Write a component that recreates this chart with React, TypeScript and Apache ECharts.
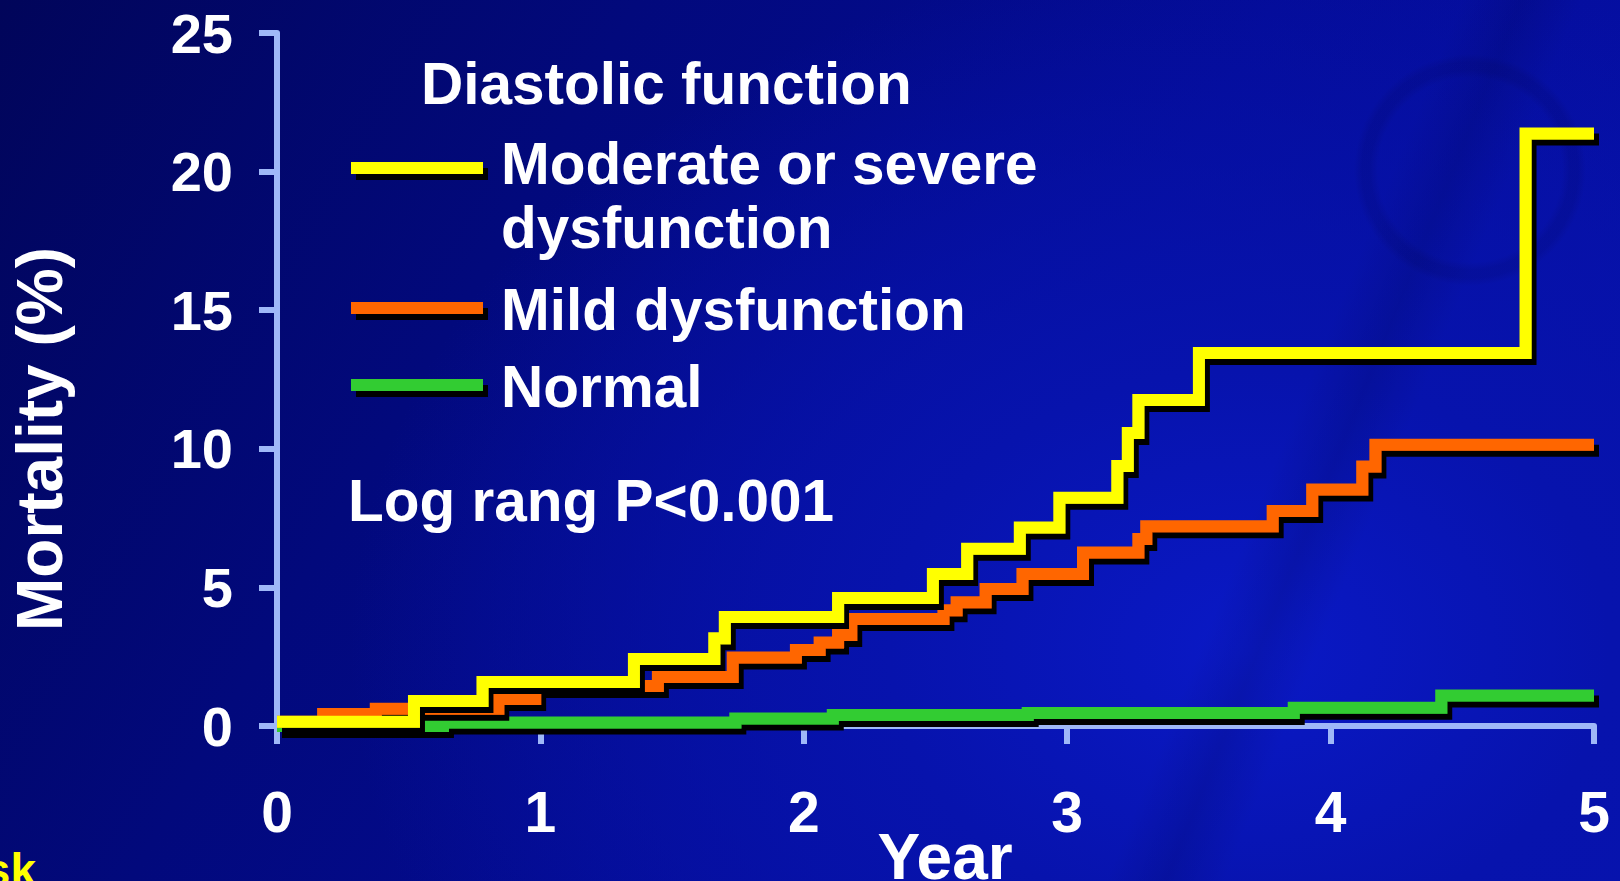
import React, { useEffect, useRef } from "react";
import * as echarts from "echarts";

// Kaplan–Meier style cumulative mortality, [year, mortality %] at each event
const severeSteps: [number, number][] = [
  [0, 0.15], [0.52, 0.9], [0.78, 1.59], [1.355, 2.42], [1.66, 3.17], [1.7, 3.93],
  [2.13, 4.62], [2.49, 5.48], [2.62, 6.39], [2.82, 7.16], [2.97, 8.23], [3.19, 9.38],
  [3.23, 10.57], [3.27, 11.76], [3.5, 13.46], [4.74, 21.37], [5.0, 21.37],
];

const mildSteps: [number, number][] = [
  [0, 0.15], [0.175, 0.43], [0.375, 0.62], [0.84, 0.97], [0.98, 1.44], [1.446, 1.77],
  [1.73, 2.47], [1.97, 2.74], [2.06, 3.01], [2.13, 3.28], [2.18, 3.86], [2.53, 4.18],
  [2.58, 4.46], [2.69, 4.94], [2.83, 5.48], [3.06, 6.26], [3.27, 6.75], [3.3, 7.21],
  [3.78, 7.76], [3.93, 8.53], [4.12, 9.36], [4.17, 10.15], [5.0, 10.15],
];

const normalSteps: [number, number][] = [
  [0, 0], [0.63, 0.13], [1.74, 0.27], [2.11, 0.4], [2.85, 0.47], [3.86, 0.66],
  [4.42, 1.1], [5.0, 1.1],
];

const yearTicks = [0, 1, 2, 3, 4, 5];
const mortalityTicks = [0, 5, 10, 15, 20, 25];

const legendTitle = "Diastolic function";
const seriesNames = ["Moderate or severe\ndysfunction", "Mild dysfunction", "Normal"];
const seriesColors = ["#ffff00", "#ff6600", "#33cc33"];
const pValueText = "Log rang P<0.001";
const xAxisTitle = "Year";
const yAxisTitle = "Mortality (%)";
const riskLabel = "At risk";

const FONT = '"Liberation Sans", Arial, Helvetica, sans-serif';
const AXIS_COLOR = "#9fb8f8";

const textShadow = {
  textShadowColor: "#000",
  textShadowOffsetX: 3,
  textShadowOffsetY: 3,
  textShadowBlur: 0,
};

function whiteText(text: string, x: number, y: number, size: number, extra: any = {}) {
  return {
    type: "text",
    x,
    y,
    z: 100,
    silent: true,
    style: {
      text,
      fill: "#ffffff",
      fontFamily: FONT,
      fontWeight: "bold",
      fontSize: size,
      align: "left",
      verticalAlign: "middle",
      ...textShadow,
      ...extra,
    },
  };
}

function legendBar(color: string, y: number) {
  return {
    type: "rect",
    shape: { x: 351, y, width: 132, height: 12 },
    z: 100,
    silent: true,
    style: {
      fill: color,
      shadowColor: "#000",
      shadowOffsetX: 5,
      shadowOffsetY: 6,
      shadowBlur: 0,
    },
  };
}

function buildOption(): any {
  const stepData = [normalSteps, mildSteps, severeSteps];
  const order = [2, 1, 0]; // draw green first, yellow last (on top)

  return {
    animation: false,
    backgroundColor: "transparent",
    grid: {
      left: 277,
      right: 26,
      top: 33,
      bottom: 155,
      containLabel: false,
      outerBoundsMode: "none",
    },
    xAxis: {
      type: "value",
      min: yearTicks[0],
      max: yearTicks[yearTicks.length - 1],
      interval: yearTicks[1] - yearTicks[0],
      splitLine: { show: false },
      axisLine: { show: true, onZero: false, lineStyle: { color: AXIS_COLOR, width: 6 } },
      axisTick: { show: true, length: 18, lineStyle: { color: AXIS_COLOR, width: 6 } },
      axisLabel: {
        margin: 57,
        color: "#ffffff",
        fontFamily: FONT,
        fontWeight: "bold",
        fontSize: 57,
        ...textShadow,
      },
    },
    yAxis: {
      type: "value",
      min: mortalityTicks[0],
      max: mortalityTicks[mortalityTicks.length - 1],
      interval: mortalityTicks[1] - mortalityTicks[0],
      splitLine: { show: false },
      axisLine: { show: true, onZero: false, lineStyle: { color: AXIS_COLOR, width: 6 } },
      axisTick: { show: true, length: 18, lineStyle: { color: AXIS_COLOR, width: 6 } },
      axisLabel: {
        margin: 44,
        color: "#ffffff",
        fontFamily: FONT,
        fontWeight: "bold",
        fontSize: 56,
        ...textShadow,
      },
    },
    series: stepData.map((data, i) => {
      const idx = order[i];
      return {
        name: seriesNames[idx],
        type: "line",
        step: "end",
        data,
        showSymbol: false,
        symbol: "none",
        silent: true,
        clip: false,
        z: 3 + i,
        lineStyle: {
          color: seriesColors[idx],
          width: 12,
          cap: "butt",
          join: "miter",
          shadowColor: "#000",
          shadowOffsetX: 5,
          shadowOffsetY: 6,
          shadowBlur: 0,
        },
      };
    }),
    graphic: [
      whiteText(legendTitle, 421, 83, 58.5),
      legendBar(seriesColors[0], 162),
      whiteText(seriesNames[0], 501, 131, 58.5, { verticalAlign: "top", lineHeight: 64 }),
      legendBar(seriesColors[1], 302),
      whiteText(seriesNames[1], 501, 309, 58.5),
      legendBar(seriesColors[2], 379),
      whiteText(seriesNames[2], 501, 386, 58.5),
      whiteText(pValueText, 348, 500, 58.5),
      {
        type: "text",
        x: 40,
        y: 439,
        rotation: Math.PI / 2,
        z: 100,
        silent: true,
        style: {
          text: yAxisTitle,
          fill: "#ffffff",
          fontFamily: FONT,
          fontWeight: "bold",
          fontSize: 64,
          align: "center",
          verticalAlign: "middle",
          ...textShadow,
        },
      },
      whiteText(xAxisTitle, 945, 857, 64, { align: "center" }),
      whiteText(riskLabel, 36, 870, 46, { align: "right", fill: "#ffff00" }),
    ],
  };
}

export default function App() {
  const ref = useRef<HTMLDivElement>(null);

  useEffect(() => {
    if (!ref.current) return;
    const chart = echarts.init(ref.current, undefined, {
      renderer: "svg",
      width: 1620,
      height: 881,
    });
    chart.setOption(buildOption());
    return () => chart.dispose();
  }, []);

  return (
    <div
      style={{
        position: "fixed",
        left: 0,
        top: 0,
        width: 1620,
        height: 881,
        overflow: "hidden",
        background: [
          "radial-gradient(circle at 1470px 170px, rgba(0,0,0,0) 92px, rgba(0,0,60,0.12) 100px, rgba(0,0,60,0.12) 108px, rgba(0,0,0,0) 116px)",
          "linear-gradient(112deg, rgba(0,0,0,0) 74%, rgba(0,0,50,0.14) 77%, rgba(0,0,0,0) 80%)",
          "radial-gradient(ellipse 900px 700px at 1250px 650px, #0a19c6 0%, #0713ad 40%, rgba(4,12,150,0) 100%)",
          "linear-gradient(120deg, #01055a 0%, #02097c 30%, #040c98 60%, #0712ae 100%)",
        ].join(", "),
      }}
    >
      <div ref={ref} style={{ width: 1620, height: 881 }} />
    </div>
  );
}
